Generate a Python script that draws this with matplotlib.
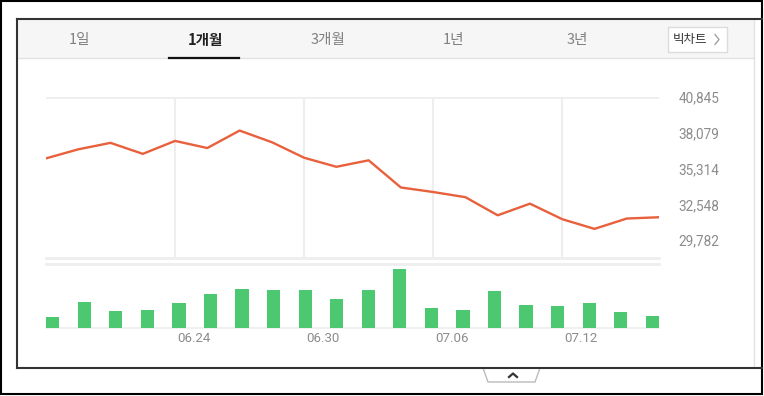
import matplotlib
matplotlib.use("Agg")
import matplotlib.pyplot as plt
from matplotlib.patches import Rectangle, Polygon

# 1-month daily close and volume (20 trading days)
close = [36100, 36800, 37300, 36450, 37450, 36900, 38250, 37350, 36150, 35450,
         35950, 33850, 33500, 33100, 31700, 32600, 31400, 30650, 31450, 31550]
volume = [103, 250, 167, 170, 243, 330, 383, 373, 367, 283,
          370, 573, 187, 170, 360, 217, 207, 237, 153, 110]
price_ticks = [29782, 32548, 35314, 38079, 40845]
date_labels = ["06.24", "06.30", "07.06", "07.12"]
date_idx = [4, 8, 12, 16]
tabs = ["1일", "1개월", "3개월", "1년", "3년"]
active_tab = "1개월"

W, H = 764, 396
LINE_C = "#e8603c"
BAR_C = "#4cc970"
GRID_C = "#eeeeee"
KR = ["Noto Sans CJK KR", "DejaVu Sans"]


def px_axes(fig, x0, y0, x1, y1):
    # axes from pixel box (top-left origin)
    return fig.add_axes([x0 / W, 1 - y1 / H, (x1 - x0) / W, (y1 - y0) / H])


fig = plt.figure(figsize=(W / 100, H / 100), dpi=100)
fig.patch.set_facecolor("white")

# --- page frame, tab bar, buttons ---
bg = fig.add_axes([0, 0, 1, 1])
bg.set_xlim(0, W)
bg.set_ylim(H, 0)
bg.axis("off")
bg.add_patch(Rectangle((17, 19), 737, 39, fc="#f6f6f6", ec="none"))
bg.plot([17, 754], [58, 58], color="#e2e2e2", lw=1)
bg.plot([754, 754], [19, 368], color="#e2e2e2", lw=1)
bg.add_patch(Rectangle((1, 1), 761, 393, fill=False, ec="black", lw=1.5))
bg.plot([17, 762], [19, 19], color="#333333", lw=1.5)
bg.plot([17, 17], [19, 368], color="#333333", lw=1.5)
bg.plot([17, 762], [368, 368], color="#333333", lw=1.5)

tab_x = [80, 205, 328, 453, 577]
for t, x in zip(tabs, tab_x):
    on = t == active_tab
    bg.text(x, 40, t, ha="center", va="center", fontsize=10.5, family=KR,
            color="#222222" if on else "#808080",
            fontweight="bold" if on else "light")
bg.plot([169, 239], [58, 58], color="#111111", lw=1.6)

bg.add_patch(Rectangle((668, 27), 59, 25, fc="white", ec="#dcdcdc", lw=1))
bg.text(690, 39.5, "빅차트", ha="center", va="center", fontsize=9,
        family=KR, color="#333333")
bg.plot([715, 719, 715], [34.5, 39.5, 44.5], color="#999999", lw=0.9)

bg.add_patch(Polygon([(483, 368), (488, 382), (535, 382), (540, 368)],
                     closed=True, fc="white", ec="#bbbbbb", lw=1))
bg.plot([509, 513, 517], [377, 373.5, 377], color="#333333", lw=1.6)

# --- price line ---
ax = px_axes(fig, 46, 97, 659, 258)
ax.set_facecolor("none")
x = list(range(len(close)))
ax.vlines(date_idx, 28399, 40845, color=GRID_C, lw=1.5, zorder=1)
ax.axhline(40845, color=GRID_C, lw=2, zorder=1)
ax.plot(x, close, color=LINE_C, lw=1.7, zorder=3, solid_joinstyle="round")
ax.set_xlim(0, len(close) - 1)
ax.set_ylim(28399, 40845)
for s in ["top", "left", "right"]:
    ax.spines[s].set_visible(False)
ax.spines["bottom"].set_color(GRID_C)
ax.spines["bottom"].set_linewidth(2)
ax.set_xticks([])
ax.yaxis.tick_right()
ax.set_yticks(price_ticks)
ax.set_yticklabels([f"{v:,}" for v in price_ticks])
ax.tick_params(axis="y", length=0, pad=14, labelsize=9.8, labelcolor="#8c8c8c")
for lbl in ax.get_yticklabels():
    lbl.set_family("Roboto")

for d, i in zip(date_labels, date_idx):
    ax.text(i + 0.06, -0.497, d, transform=ax.get_xaxis_transform(),
            ha="left", va="center", fontsize=9.5, color="#8c8c8c",
            family="Roboto")

# --- volume bars ---
ax2 = px_axes(fig, 46, 264, 659, 327.5)
ax2.set_facecolor("none")
ax2.bar(range(len(volume)), volume, width=0.42, color=BAR_C, zorder=3)
ax2.set_xlim(-0.21, len(volume) - 1 + 0.21)
ax2.set_ylim(0, max(volume) * 1.09)
for s in ["left", "right"]:
    ax2.spines[s].set_visible(False)
ax2.spines["top"].set_color(GRID_C)
ax2.spines["top"].set_linewidth(2)
ax2.spines["bottom"].set_color(GRID_C)
ax2.spines["bottom"].set_linewidth(1.2)
ax2.set_xticks([])
ax2.set_yticks([])

fig.savefig("out.png", dpi=100)
